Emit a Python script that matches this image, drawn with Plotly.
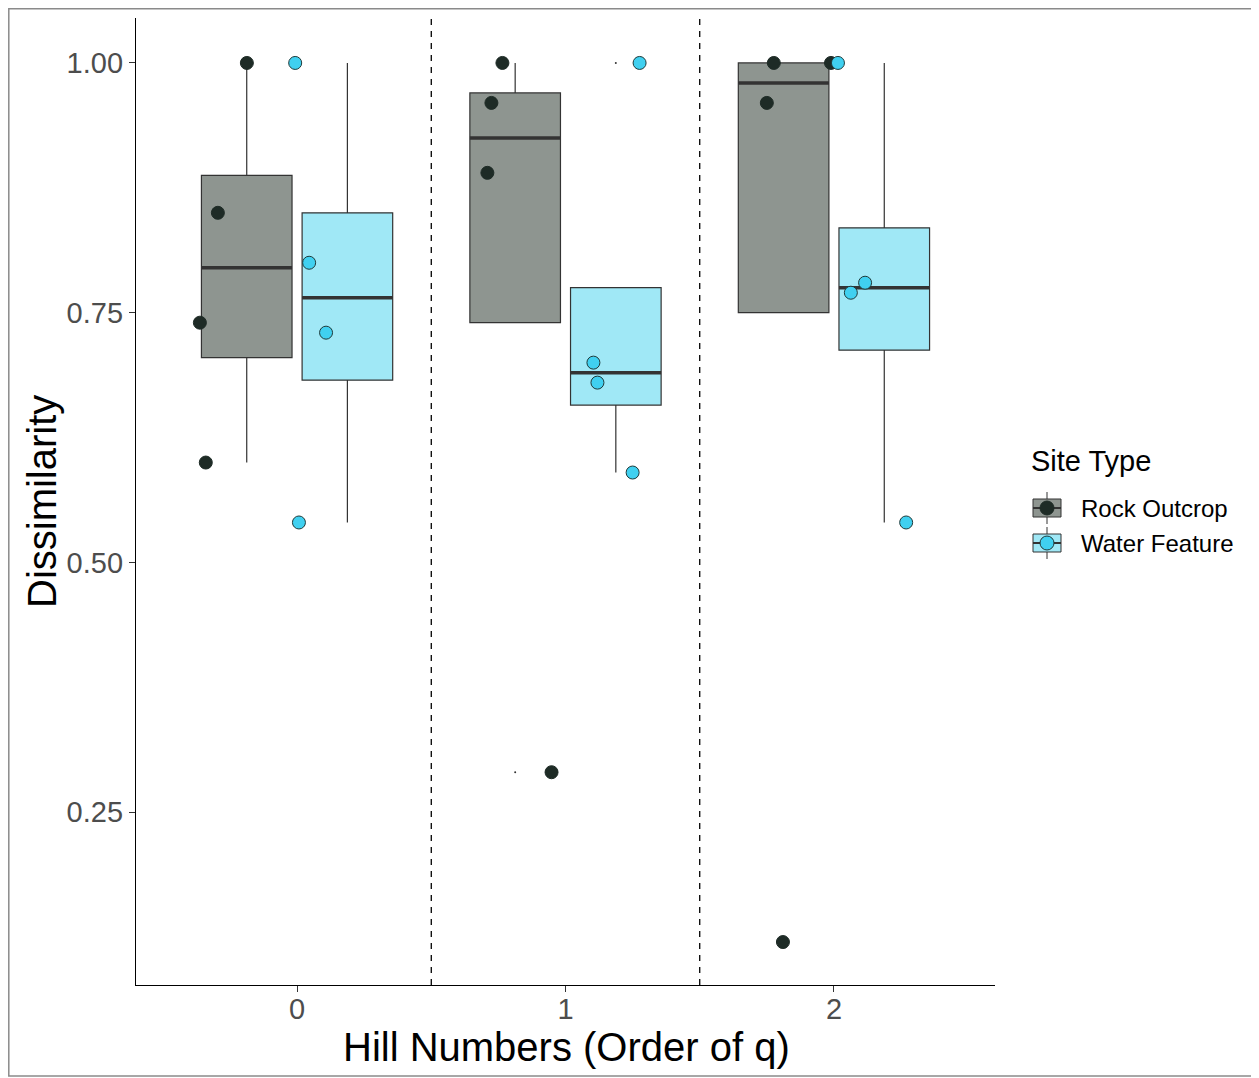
import numpy as np
import plotly.graph_objects as go

# ---------------- data ----------------
categories = [0, 1, 2]
tick_labels_x = ["0", "1", "2"]
y_tick_vals = [0.25, 0.50, 0.75, 1.00]
y_tick_labels = ["0.25", "0.50", "0.75", "1.00"]

rock_q0 = [1.00, 0.85, 0.74, 0.60]
rock_q1 = [1.00, 0.96, 0.89, 0.29]
rock_q2 = [1.00, 0.96, 1.00, 0.12]
water_q0 = [1.00, 0.80, 0.73, 0.54]
water_q1 = [0.70, 0.68, 0.59, 1.00]
water_q2 = [1.00, 0.77, 0.78, 0.54]

# horizontal jitter of each point (in x units)
rock_jit_q0 = [-0.187, -0.295, -0.362, -0.340]
rock_jit_q1 = [-0.235, -0.276, -0.291, -0.052]
rock_jit_q2 = [-0.224, -0.250, -0.011, -0.190]
water_jit_q0 = [-0.007, 0.045, 0.108, 0.007]
water_jit_q1 = [0.104, 0.119, 0.250, 0.276]
water_jit_q2 = [0.015, 0.063, 0.116, 0.269]

series_names = ["Rock Outcrop", "Water Feature"]
x_title = "Hill Numbers (Order of q)"
y_title = "Dissimilarity"
legend_title = "Site Type"

# ---------------- styles ----------------
FONT = "Liberation Sans, Arial, sans-serif"
ROCK_FILL = "#8E9590"
ROCK_PT = "#1E2B26"
WATER_FILL = "#A0E8F6"
WATER_PT = "#40D0F0"
LINE = "#333333"
DODGE = 0.1875
BOXW = 0.3375

OFF = 8  # page body margin
W, H = 1259 - OFF, 1078 - OFF
ML, MR, MT, MB = 136 - OFF, 264, 18 - OFF, 93
PW, PH = W - ML - MR, H - MT - MB


def px(x):  # page pixel -> paper
    return (x - OFF - ML) / PW


def py(y):
    return (MT + PH - (y - OFF)) / PH


def stats(vals):
    v = np.array(vals, dtype=float)
    q1, med, q3 = np.percentile(v, [25, 50, 75])
    iqr = q3 - q1
    lo_lim, hi_lim = q1 - 1.5 * iqr, q3 + 1.5 * iqr
    inside = v[(v >= lo_lim) & (v <= hi_lim)]
    lf = min(inside.min(), q1)
    uf = max(inside.max(), q3)
    outl = v[(v < lo_lim) | (v > hi_lim)]
    return q1, med, q3, lf, uf, outl


fig = go.Figure()

groups = [
    (series_names[0], [rock_q0, rock_q1, rock_q2], [rock_jit_q0, rock_jit_q1, rock_jit_q2], -DODGE, ROCK_FILL, ROCK_PT, ROCK_PT),
    (series_names[1], [water_q0, water_q1, water_q2], [water_jit_q0, water_jit_q1, water_jit_q2], DODGE, WATER_FILL, WATER_PT, "#1E3A3A"),
]

for name, data, jits, off, fill, ptc, ptline in groups:
    st = [stats(d) for d in data]
    xs = [c + off for c in categories]
    fig.add_trace(go.Box(
        x=xs,
        q1=[s[0] for s in st], median=[s[1] for s in st], q3=[s[2] for s in st],
        lowerfence=[s[3] for s in st], upperfence=[s[4] for s in st],
        width=BOXW, fillcolor=fill, line=dict(color=LINE, width=1.2),
        whiskerwidth=0, boxpoints=False, name=name, showlegend=False,
        hoverinfo="skip",
    ))
    mx, my = [], []
    for x, s in zip(xs, st):
        mx += [x - BOXW / 2, x + BOXW / 2, None]
        my += [s[1], s[1], None]
    fig.add_trace(go.Scatter(x=mx, y=my, mode="lines", line=dict(color=LINE, width=3.5),
                             showlegend=False, hoverinfo="skip"))
    ox, oy = [], []
    for x, s in zip(xs, st):
        for o in s[5]:
            ox.append(x)
            oy.append(o)
    fig.add_trace(go.Scatter(x=ox, y=oy, mode="markers", marker=dict(size=2, color=LINE),
                             showlegend=False, hoverinfo="skip"))

for name, data, jits, off, fill, ptc, ptline in groups:
    jx, jy = [], []
    for c, d, j in zip(categories, data, jits):
        for v, o in zip(d, j):
            jx.append(c + o)
            jy.append(v)
    fig.add_trace(go.Scatter(x=jx, y=jy, mode="markers", name=name, showlegend=False,
                             marker=dict(size=13, color=ptc, line=dict(color=ptline, width=1))))

shapes = []
for xv in [0.5, 1.5]:
    shapes.append(dict(type="line", xref="x", yref="paper", x0=xv, x1=xv, y0=0, y1=1,
                       line=dict(color="black", width=1.3, dash="6px,6px")))

# outer frame
shapes.append(dict(type="rect", xref="paper", yref="paper", x0=px(8.8), x1=px(1257),
                   y0=py(1076), y1=py(8.8), line=dict(color="#8A8A8A", width=1.5), layer="below"))

annotations = [
    dict(text=legend_title, xref="paper", yref="paper", x=px(1029), y=py(461),
         xanchor="left", yanchor="middle", showarrow=False,
         font=dict(family=FONT, size=29, color="black")),
    dict(text=x_title, xref="paper", yref="paper", x=px(566), y=py(1047),
         xanchor="center", yanchor="middle", showarrow=False,
         font=dict(family=FONT, size=40, color="black")),
    dict(text=y_title, xref="paper", yref="paper", x=px(42), y=py(502), textangle=-90,
         xanchor="center", yanchor="middle", showarrow=False,
         font=dict(family=FONT, size=40, color="black")),
]

for i, (name, fill, ptc, ptline) in enumerate([(series_names[0], ROCK_FILL, ROCK_PT, ROCK_PT),
                                               (series_names[1], WATER_FILL, WATER_PT, "#1E3A3A")]):
    cy = 508 + 35 * i
    cx = 1047
    shapes.append(dict(type="line", xref="paper", yref="paper", x0=px(cx), x1=px(cx),
                       y0=py(cy - 16), y1=py(cy + 16), line=dict(color=LINE, width=1)))
    shapes.append(dict(type="rect", xref="paper", yref="paper", x0=px(1033), x1=px(1061),
                       y0=py(cy + 9), y1=py(cy - 9), fillcolor=fill, line=dict(color=LINE, width=1)))
    shapes.append(dict(type="line", xref="paper", yref="paper", x0=px(1033), x1=px(1061),
                       y0=py(cy), y1=py(cy), line=dict(color=LINE, width=2)))
    shapes.append(dict(type="circle", xref="paper", yref="paper", xsizemode="pixel", ysizemode="pixel",
                       xanchor=px(cx), yanchor=py(cy), x0=-7, x1=7, y0=-7, y1=7,
                       fillcolor=ptc, line=dict(color=ptline, width=1)))
    annotations.append(dict(text=name, xref="paper", yref="paper", x=px(1079), y=py(cy),
                            xanchor="left", yanchor="middle", showarrow=False,
                            font=dict(family=FONT, size=24, color="black")))

fig.update_layout(
    width=W, height=H,
    margin=dict(l=ML, r=MR, t=MT, b=MB, pad=0),
    paper_bgcolor="white", plot_bgcolor="white",
    boxmode="overlay",
    showlegend=False,
    font=dict(family=FONT, color="black"),
    shapes=shapes,
    annotations=annotations,
    xaxis=dict(
        range=[-0.6, 2.6], tickvals=categories, ticktext=tick_labels_x,
        showgrid=False, zeroline=False, showline=True, linecolor="black", linewidth=1.3,
        ticks="outside", ticklen=6, tickcolor="#333333", tickwidth=1.2,
        tickfont=dict(family=FONT, size=29, color="#4D4D4D"),
        ticklabelstandoff=-8,
    ),
    yaxis=dict(
        range=[0.077, 1.045], tickvals=y_tick_vals, ticktext=y_tick_labels,
        showgrid=False, zeroline=False, showline=True, linecolor="black", linewidth=1.3,
        ticks="outside", ticklen=6, tickcolor="#333333", tickwidth=1.2,
        tickfont=dict(family=FONT, size=29, color="#4D4D4D"),
    ),
)

fig.write_html("out.html")
